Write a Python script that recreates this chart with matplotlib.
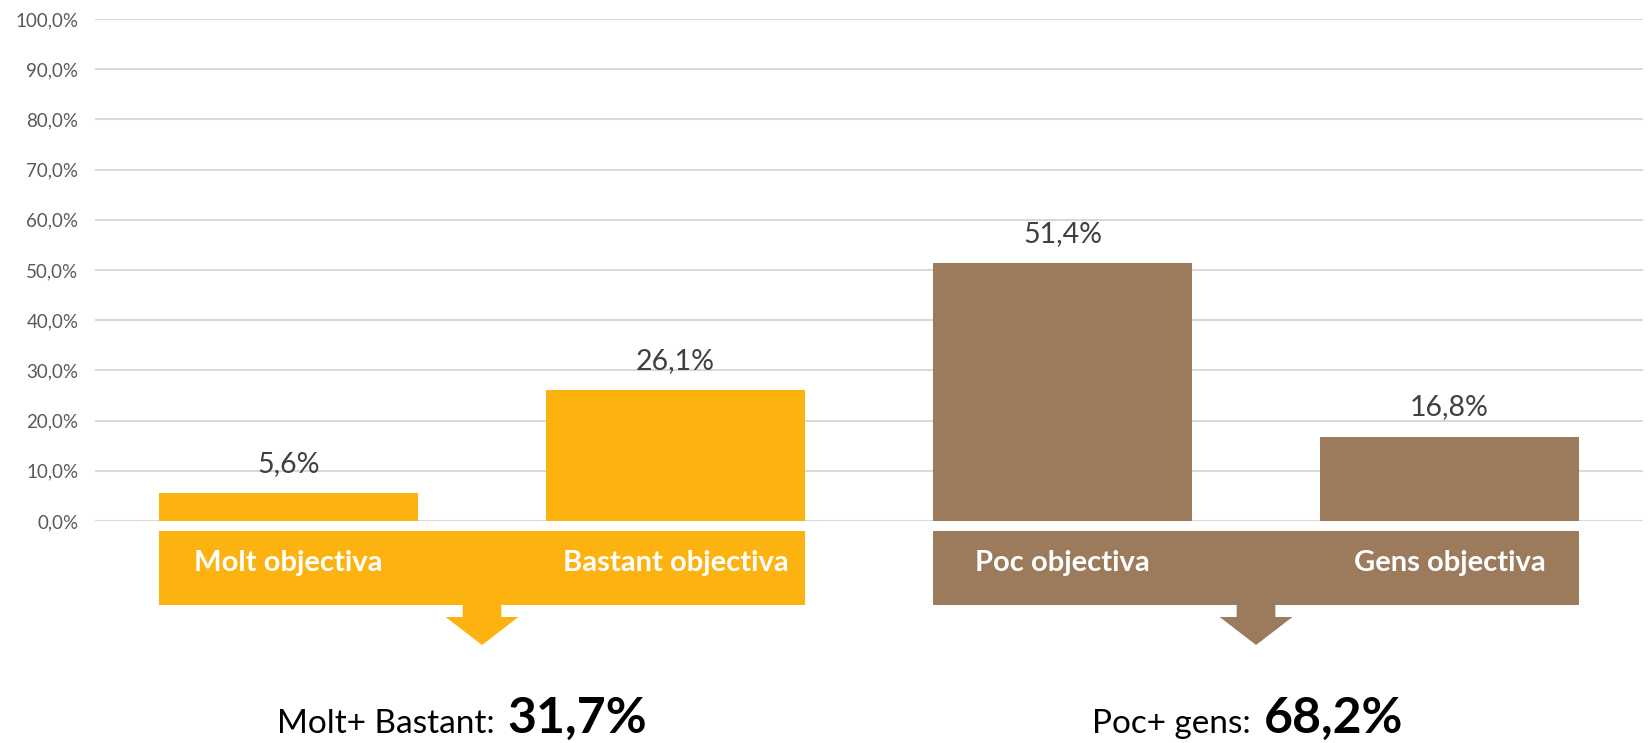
import matplotlib
matplotlib.use("Agg")
import matplotlib.pyplot as plt
from matplotlib.patches import Rectangle, Polygon
from matplotlib import transforms

plt.rcParams['font.family'] = ['Lato', 'DejaVu Sans']

categories = ["Molt objectiva", "Bastant objectiva", "Poc objectiva", "Gens objectiva"]
values = [5.6, 26.1, 51.4, 16.8]
value_labels = ["5,6%", "26,1%", "51,4%", "16,8%"]
group_texts = ["Molt+ Bastant: ", "Poc+ gens: "]
group_totals = ["31,7%", "68,2%"]
yticks = [0, 10, 20, 30, 40, 50, 60, 70, 80, 90, 100]

YELLOW = "#FDB30F"
BROWN = "#9C7B5C"
colors = [YELLOW, YELLOW, BROWN, BROWN]
group_colors = [YELLOW, BROWN]
bar_w = 0.67

fig = plt.figure(figsize=(16.49, 7.43), dpi=100)
ax = fig.add_axes([0.0576, 0.2988, 0.9388, 0.6756])

ax.bar(range(4), values, width=bar_w, color=colors, zorder=3)
ax.set_xlim(-0.5, 3.5)
ax.set_ylim(0, 100)
ax.set_yticks(yticks)
ax.set_yticklabels([f"{t},0%" for t in yticks], color="#595959", fontsize=13.5)
ax.tick_params(axis='y', length=0, pad=12)
ax.set_xticks([])
ax.grid(axis='y', color="#d9d9d9", linewidth=1.5, zorder=0)
for s in ax.spines.values():
    s.set_visible(False)

for i, v in enumerate(values):
    ax.annotate(value_labels[i], (i, v), xytext=(0, 21), textcoords="offset points",
                ha="center", va="center", fontsize=20.5, color="#404040")

# banners with arrows below the bars
tr = transforms.blended_transform_factory(ax.transData, fig.transFigure)
y_top, y_bot, y_stem, y_tip = 0.2853, 0.1857, 0.1696, 0.1319
for g in range(2):
    x0 = 2 * g - bar_w / 2
    x1 = 2 * g + 1 + bar_w / 2
    xc = 2 * g + 0.5
    c = group_colors[g]
    fig.patches.append(Rectangle((x0, y_bot), x1 - x0, y_top - y_bot, transform=tr,
                                 facecolor=c, edgecolor="none"))
    arrow = [(xc - 0.05, y_bot + 0.001), (xc + 0.05, y_bot + 0.001), (xc + 0.05, y_stem),
             (xc + 0.094, y_stem), (xc, y_tip), (xc - 0.094, y_stem), (xc - 0.05, y_stem)]
    fig.patches.append(Polygon(arrow, closed=True, transform=tr, facecolor=c, edgecolor="none"))
    for k in (2 * g, 2 * g + 1):
        fig.text(k, 0.2423, categories[k], transform=tr, ha="center", va="center",
                 color="white", fontsize=21, fontweight="bold")

split = [0.555, 2.509]
for g in range(2):
    fig.text(split[g], 0.0135, group_texts[g], transform=tr, ha="right", va="baseline",
             fontsize=24, color="black")
    fig.text(split[g] + 0.01, 0.0135, group_totals[g], transform=tr, ha="left", va="baseline",
             fontsize=36, fontweight="bold", color="black")

fig.savefig("out.png", dpi=100)
